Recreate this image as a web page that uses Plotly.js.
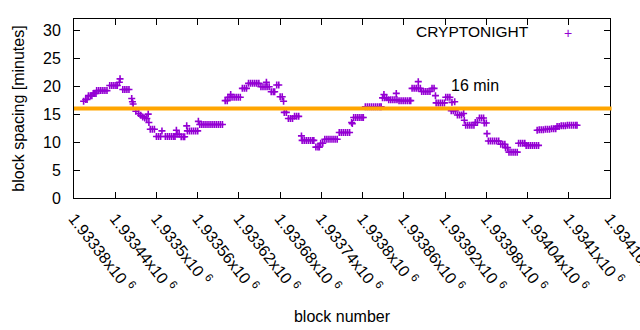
<!DOCTYPE html>
<html>
<head>
<meta charset="utf-8">
<script src="https://cdn.plot.ly/plotly-3.0.1.min.js"></script>
<style>html,body{margin:0;padding:0;background:#fff;}#chart{width:640px;height:330px;}</style>
</head>
<body>
<div id="chart"></div>
<script>
// block numbers (x) and block spacing in minutes (y)
const blocks = [
1933394,1933397,1933399,
1933401,1933404,1933406,
1933408,1933410,1933412,
1933413,1933416,1933419,1933422,1933425,1933428,
1933432,1933435,1933438,1933441,1933443,
1933446,1933447,
1933451,1933454,1933457,1933460,
1933464,1933465,1933466,1933470,
1933474,1933477,1933480,1933483,1933486,
1933488,1933489,
1933491,1933494,1933497,
1933500,1933503,1933506,1933508,
1933513,1933516,1933519,1933522,1933525,1933527,
1933529,1933530,1933533,
1933536,1933539,1933541,
1933544,1933545,1933548,1933551,1933554,1933557,1933560,
1933561,1933563,1933566,1933569,1933572,1933575,1933578,1933581,1933584,1933587,1933590,1933593,1933596,
1933600,1933603,
1933604,1933607,1933608,1933610,1933613,1933616,1933619,1933622,
1933625,1933628,1933631,
1933634,1933637,1933640,1933643,1933646,1933649,
1933652,1933655,1933658,1933660,1933661,1933664,
1933667,1933670,1933672,
1933675,1933678,
1933680,1933683,1933685,
1933686,1933689,
1933692,1933695,1933698,
1933701,1933704,1933707,
1933711,1933712,1933715,1933718,1933721,1933724,1933727,1933729,
1933732,1933735,1933737,
1933739,1933742,
1933745,1933748,1933751,1933754,1933757,1933760,1933763,
1933766,1933769,1933772,1933775,1933778,1933781,
1933784,1933785,
1933787,1933790,1933793,1933796,1933799,1933801,
1933804,1933807,1933810,1933813,1933816,1933819,1933822,1933825,1933827,
1933829,1933831,1933832,1933835,
1933838,1933841,1933844,1933847,1933850,1933849,
1933853,1933856,1933859,1933862,1933865,1933868,1933870,
1933872,1933875,1933878,1933881,1933884,1933881,
1933886,1933889,1933892,1933895,1933898,
1933901,1933904,1933906,
1933907,1933910,1933913,1933916,1933919,
1933921,1933924,1933927,
1933929,1933932,1933935,1933930,1933934,
1933938,1933941,1933944,
1933947,1933948,
1933950,1933953,1933956,1933959,1933962,
1933964,1933967,
1933970,1933973,1933976,
1933977,1933980,
1933981,
1933983,1933986,1933989,1933992,1933995,1933998,
1934001,1934004,1934007,
1934008,1934011,
1934013,1934016,1934019,1934022,1934025,
1934027,1934030,1934033,1934036,
1934038,1934041,1934044,1934047,1934050,1934053,1934056,
1934054,
1934057,1934060,1934063,1934066,1934069,1934072,1934075,1934078,1934081,
1934083,1934086,1934089,1934092,1934095,1934098,1934101,1934104,1934107,1934110,1934112
];
const spacingMinutes = [
17.3,17.6,17.6,
18.3,18.3,18.3,
18.7,18.7,18.7,
19.2,19.2,19.2,19.2,19.2,19.2,
20.1,20.1,20.1,20.1,20.1,
20.7,21.3,
19.4,19.4,19.4,19.4,
17.8,17.2,16.8,15.5,
15.1,14.8,14.5,14.3,14.2,
15.0,13.5,
12.3,12.3,12.3,
11.0,11.0,11.0,12.0,
11.0,11.0,11.0,11.0,11.0,11.0,
12.1,11.4,11.4,
10.95,10.95,10.95,
12.9,12.0,12.0,12.0,12.0,12.0,12.0,
13.7,13.15,13.15,13.15,13.15,13.15,13.15,13.15,13.15,13.15,13.15,13.15,13.15,
17.4,17.4,
18.0,18.0,18.5,18.0,18.0,18.0,18.0,18.0,
19.6,19.6,19.6,
20.5,20.5,20.5,20.5,20.5,20.5,
19.9,19.9,19.9,20.7,19.9,19.9,
19.0,19.0,19.0,
20.2,20.2,
18.1,18.1,17.3,
15.3,15.3,
14.2,14.2,14.2,
14.6,14.6,14.6,
11.1,10.3,10.3,10.3,10.3,10.3,10.3,10.3,
9.1,9.1,9.1,
9.8,9.8,
10.5,10.5,10.5,10.5,10.5,10.5,10.5,
11.7,11.7,11.7,11.7,11.7,11.7,
13.5,13.3,
14.4,14.4,14.4,14.4,14.4,14.4,
16.3,16.3,16.3,16.3,16.3,16.3,16.3,16.3,16.3,
17.9,18.5,17.9,17.9,
17.55,17.55,17.55,17.55,17.55,18.7,
17.4,17.4,17.4,17.4,17.4,17.4,17.4,
19.6,19.6,19.6,19.6,19.6,20.8,
19.05,19.05,19.05,19.05,19.05,
19.6,19.6,18.3,
17.0,17.0,17.0,17.0,17.0,
18.0,18.0,18.0,
15.6,15.6,15.6,17.1,17.2,
14.85,14.85,14.85,
15.1,13.9,
13.0,13.0,13.0,13.0,13.0,
13.5,13.5,
14.3,14.3,14.3,
13.4,13.4,
11.5,
10.2,10.2,10.2,10.2,10.2,10.2,
9.6,9.6,9.6,
9.0,9.0,
8.2,8.2,8.2,8.2,8.2,
9.8,9.8,9.8,9.8,
9.4,9.4,9.4,9.4,9.4,9.4,9.4,
12.1,
12.2,12.2,12.2,12.3,12.3,12.3,12.4,12.4,12.4,
12.8,12.8,12.9,12.9,12.9,13.0,13.0,13.0,13.0,13.0,13.0
];
const seriesName = "CRYPTONIGHT";
const targetMinutes = 16;
const targetLabel = "16 min";
const xTickVals = [1933380,1933440,1933500,1933560,1933620,1933680,1933740,1933800,1933860,1933920,1933980,1934040,1934100,1934160];
const xTickMantissa = ["1.93338","1.93344","1.9335","1.93356","1.93362","1.93368","1.93374","1.9338","1.93386","1.93392","1.93398","1.93404","1.9341","1.93416"];
const yTickVals = [0,5,10,15,20,25,30];

const FONT = "Liberation Sans, Arial, sans-serif";
const PURPLE = "#9400d3";
const xTickText = xTickMantissa.map(m => m + "x10 <sup>6</sup>");

const traces = [
  {
    type: "scatter", mode: "markers", name: seriesName,
    x: blocks, y: spacingMinutes,
    marker: {symbol: "cross-thin", size: 5, color: PURPLE, line: {color: PURPLE, width: 1.6}},
    hoverinfo: "skip", showlegend: false, cliponaxis: false
  }
];

const layout = {
  width: 640, height: 330,
  margin: {l: 74, r: 30, t: 19, b: 132, pad: 0},
  paper_bgcolor: "#fff", plot_bgcolor: "#fff",
  font: {family: FONT, size: 16, color: "#000"},
  showlegend: false,
  xaxis: {
    range: [xTickVals[0], xTickVals[xTickVals.length - 1]],
    tickmode: "array", tickvals: xTickVals, ticktext: xTickText,
    tickangle: 52, ticks: "inside", ticklen: 6, tickcolor: "#000",
    showline: true, linecolor: "#000", linewidth: 1, mirror: "allticks",
    showgrid: false, zeroline: false, automargin: false,
    ticklabeloverflow: "allow", ticklabelstandoff: 4,
    tickfont: {family: FONT, size: 16, color: "#000"},
    title: {text: "block number", font: {family: FONT, size: 16, color: "#000"}, standoff: 16}
  },
  yaxis: {
    range: [0, 32],
    tickmode: "array", tickvals: yTickVals,
    ticks: "inside", ticklen: 6, tickcolor: "#000",
    showline: true, linecolor: "#000", linewidth: 1, mirror: "allticks",
    showgrid: false, zeroline: false, automargin: false,
    tickfont: {family: FONT, size: 16, color: "#000"},
    ticklabelstandoff: 9,
    title: {text: "block spacing [minutes]", font: {family: FONT, size: 16, color: "#000"}, standoff: 14}
  },
  shapes: [
    {type: "line", xref: "paper", yref: "y", x0: 0, x1: 1.003, y0: targetMinutes, y1: targetMinutes,
     line: {color: "#ffa500", width: 4}, layer: "above"}
  ],
  annotations: [
    {text: targetLabel, xref: "x", yref: "y", x: 1933925, y: 20.1, xanchor: "left", yanchor: "middle",
     showarrow: false, font: {family: FONT, size: 16, color: "#000"}},
    {text: seriesName, xref: "paper", yref: "paper", x: 0.8526, y: 0.928, xanchor: "right", yanchor: "middle",
     showarrow: false, font: {family: FONT, size: 15.5, color: "#000"}},
    {text: "+", xref: "paper", yref: "paper", x: 0.9216, y: 0.922, xanchor: "center", yanchor: "middle",
     showarrow: false, font: {family: FONT, size: 14, color: PURPLE}}
  ]
};

Plotly.newPlot("chart", traces, layout, {displayModeBar: false, staticPlot: true});
</script>
</body>
</html>
